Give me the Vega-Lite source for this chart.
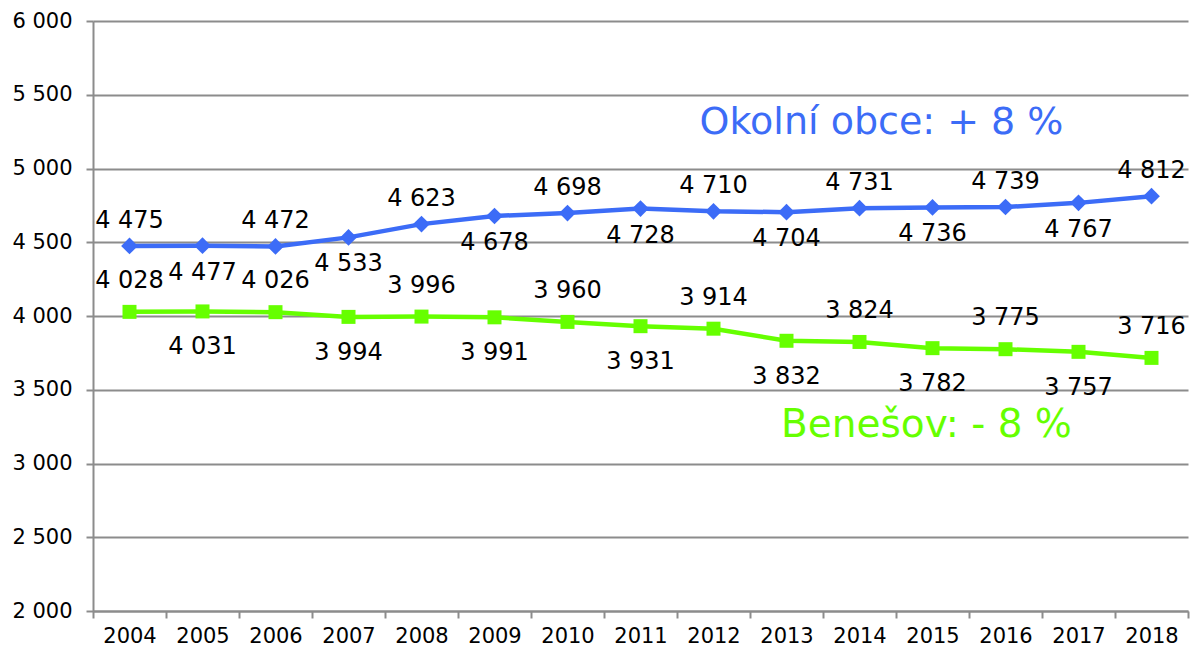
{
  "$schema": "https://vega.github.io/schema/vega-lite/v6.json",
  "width": 1095,
  "height": 590,
  "autosize": {"type": "none"},
  "padding": {"left": 93, "top": 21, "right": 15, "bottom": 40},
  "background": "white",
  "config": {
    "locale": {"number": {"decimal": ",", "thousands": " ", "grouping": [3], "currency": ["", " Kč"]}},
    "view": {"stroke": null},
    "font": "DejaVu Sans",
    "axis": {"labelFont": "DejaVu Sans", "labelColor": "#000000"}
  },
  "datasets": {
    "pop": [
      {"year": "2004", "series": "Okolní obce", "value": 4475},
      {"year": "2005", "series": "Okolní obce", "value": 4477},
      {"year": "2006", "series": "Okolní obce", "value": 4472},
      {"year": "2007", "series": "Okolní obce", "value": 4533},
      {"year": "2008", "series": "Okolní obce", "value": 4623},
      {"year": "2009", "series": "Okolní obce", "value": 4678},
      {"year": "2010", "series": "Okolní obce", "value": 4698},
      {"year": "2011", "series": "Okolní obce", "value": 4728},
      {"year": "2012", "series": "Okolní obce", "value": 4710},
      {"year": "2013", "series": "Okolní obce", "value": 4704},
      {"year": "2014", "series": "Okolní obce", "value": 4731},
      {"year": "2015", "series": "Okolní obce", "value": 4736},
      {"year": "2016", "series": "Okolní obce", "value": 4739},
      {"year": "2017", "series": "Okolní obce", "value": 4767},
      {"year": "2018", "series": "Okolní obce", "value": 4812},
      {"year": "2004", "series": "Benešov", "value": 4028},
      {"year": "2005", "series": "Benešov", "value": 4031},
      {"year": "2006", "series": "Benešov", "value": 4026},
      {"year": "2007", "series": "Benešov", "value": 3994},
      {"year": "2008", "series": "Benešov", "value": 3996},
      {"year": "2009", "series": "Benešov", "value": 3991},
      {"year": "2010", "series": "Benešov", "value": 3960},
      {"year": "2011", "series": "Benešov", "value": 3931},
      {"year": "2012", "series": "Benešov", "value": 3914},
      {"year": "2013", "series": "Benešov", "value": 3832},
      {"year": "2014", "series": "Benešov", "value": 3824},
      {"year": "2015", "series": "Benešov", "value": 3782},
      {"year": "2016", "series": "Benešov", "value": 3775},
      {"year": "2017", "series": "Benešov", "value": 3757},
      {"year": "2018", "series": "Benešov", "value": 3716}
    ],
    "notes": [
      {"year": "2014", "series": "Okolní obce", "value": 5310, "label": "Okolní obce: + 8 %"},
      {"year": "2015", "series": "Benešov", "value": 3259, "label": "Benešov: - 8 %"}
    ]
  },
  "data": {"name": "pop"},
  "encoding": {
    "x": {
      "field": "year", "type": "ordinal", "bandPosition": 0.5,
      "scale": {"type": "band", "paddingInner": 0, "paddingOuter": 0},
      "axis": {
        "title": null, "labelAngle": 0, "tickBand": "extent", "grid": false,
        "domainColor": "#8c8c8c", "domainWidth": 2, "tickColor": "#8c8c8c", "tickWidth": 2, "tickSize": 7,
        "labelFontSize": 21, "labelPadding": 7
      }
    },
    "y": {
      "field": "value", "type": "quantitative",
      "scale": {"domain": [2000, 6000], "nice": false, "zero": false},
      "axis": {
        "title": null, "values": [2000, 2500, 3000, 3500, 4000, 4500, 5000, 5500, 6000],
        "format": ",d", "grid": true, "gridColor": "#8c8c8c", "gridWidth": 2,
        "domainColor": "#8c8c8c", "domainWidth": 2, "tickColor": "#8c8c8c", "tickWidth": 2, "tickSize": 7,
        "labelFontSize": 21, "labelPadding": 14
      }
    },
    "color": {
      "field": "series", "type": "nominal", "legend": null,
      "scale": {"domain": ["Okolní obce", "Benešov"], "range": ["#3c6cf7", "#66ff00"]}
    }
  },
  "layer": [
    {"mark": {"type": "line", "strokeWidth": 4.5}},
    {
      "mark": {"type": "point", "filled": true, "opacity": 1},
      "encoding": {
        "shape": {"field": "series", "type": "nominal", "legend": null, "scale": {"domain": ["Okolní obce", "Benešov"], "range": ["diamond", "square"]}},
        "size": {"field": "series", "type": "nominal", "legend": null, "scale": {"domain": ["Okolní obce", "Benešov"], "range": [280, 196]}}
      }
    },
    {
      "transform": [{"filter": "datum.series == 'Okolní obce' && toNumber(datum.year) % 2 == 0"}],
      "mark": {"type": "text", "fontSize": 24, "dy": -25, "baseline": "middle"},
      "encoding": {"text": {"field": "value", "type": "quantitative", "format": ",d"}, "color": {"value": "#000000"}}
    },
    {
      "transform": [{"filter": "datum.series == 'Okolní obce' && toNumber(datum.year) % 2 == 1"}],
      "mark": {"type": "text", "fontSize": 24, "dy": 27, "baseline": "middle"},
      "encoding": {"text": {"field": "value", "type": "quantitative", "format": ",d"}, "color": {"value": "#000000"}}
    },
    {
      "transform": [{"filter": "datum.series == 'Benešov' && toNumber(datum.year) % 2 == 0"}],
      "mark": {"type": "text", "fontSize": 24, "dy": -31, "baseline": "middle"},
      "encoding": {"text": {"field": "value", "type": "quantitative", "format": ",d"}, "color": {"value": "#000000"}}
    },
    {
      "transform": [{"filter": "datum.series == 'Benešov' && toNumber(datum.year) % 2 == 1"}],
      "mark": {"type": "text", "fontSize": 24, "dy": 36, "baseline": "middle"},
      "encoding": {"text": {"field": "value", "type": "quantitative", "format": ",d"}, "color": {"value": "#000000"}}
    },
    {
      "data": {"name": "notes"},
      "transform": [{"filter": "datum.series == 'Okolní obce'"}],
      "mark": {"type": "text", "fontSize": 38, "dx": 22, "baseline": "middle"},
      "encoding": {"text": {"field": "label", "type": "nominal"}}
    },
    {
      "data": {"name": "notes"},
      "transform": [{"filter": "datum.series == 'Benešov'"}],
      "mark": {"type": "text", "fontSize": 39, "dx": -6, "baseline": "middle"},
      "encoding": {"text": {"field": "label", "type": "nominal"}}
    }
  ]
}
